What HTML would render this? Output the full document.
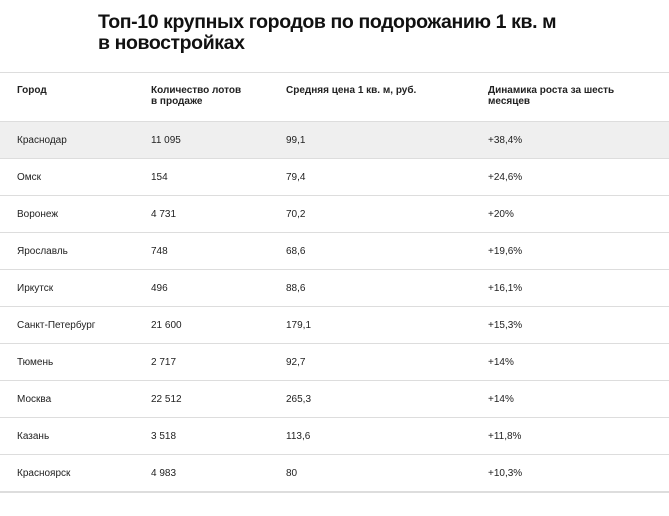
<!DOCTYPE html><html><head><meta charset="utf-8"><style>
body{margin:0;width:669px;height:516px;background:#fff;font-family:"Liberation Sans",sans-serif;color:#222;position:relative;overflow:hidden}
h1{position:absolute;left:98px;top:12px;margin:0;font-size:19.5px;line-height:21px;font-weight:bold;color:#111;letter-spacing:-0.4px}
.r{position:absolute;left:0;width:669px;border-top:1px solid #ddd;font-size:10px}
.r span{position:absolute}
</style></head><body>
<h1>Топ-10 крупных городов по подорожанию 1 кв. м<br>в новостройках</h1>
<div class="r" style="top:72px;height:49px;font-weight:bold;line-height:11px">
<span style="left:17px;top:12px">Город</span>
<span style="left:151px;top:12px">Количество лотов<br>в продаже</span>
<span style="left:286px;top:12px">Средняя цена 1 кв. м, руб.</span>
<span style="left:488px;top:12px">Динамика роста за шесть<br>месяцев</span>
</div>
<div class="r" style="top:121px;height:36px;background:#efefef"><span style="left:17px;top:13px">Краснодар</span><span style="left:151px;top:13px">11 095</span><span style="left:286px;top:13px">99,1</span><span style="left:488px;top:13px">+38,4%</span></div>
<div class="r" style="top:158px;height:36px"><span style="left:17px;top:13px">Омск</span><span style="left:151px;top:13px">154</span><span style="left:286px;top:13px">79,4</span><span style="left:488px;top:13px">+24,6%</span></div>
<div class="r" style="top:195px;height:36px"><span style="left:17px;top:13px">Воронеж</span><span style="left:151px;top:13px">4 731</span><span style="left:286px;top:13px">70,2</span><span style="left:488px;top:13px">+20%</span></div>
<div class="r" style="top:232px;height:36px"><span style="left:17px;top:13px">Ярославль</span><span style="left:151px;top:13px">748</span><span style="left:286px;top:13px">68,6</span><span style="left:488px;top:13px">+19,6%</span></div>
<div class="r" style="top:269px;height:36px"><span style="left:17px;top:13px">Иркутск</span><span style="left:151px;top:13px">496</span><span style="left:286px;top:13px">88,6</span><span style="left:488px;top:13px">+16,1%</span></div>
<div class="r" style="top:306px;height:36px"><span style="left:17px;top:13px">Санкт-Петербург</span><span style="left:151px;top:13px">21 600</span><span style="left:286px;top:13px">179,1</span><span style="left:488px;top:13px">+15,3%</span></div>
<div class="r" style="top:343px;height:36px"><span style="left:17px;top:13px">Тюмень</span><span style="left:151px;top:13px">2 717</span><span style="left:286px;top:13px">92,7</span><span style="left:488px;top:13px">+14%</span></div>
<div class="r" style="top:380px;height:36px"><span style="left:17px;top:13px">Москва</span><span style="left:151px;top:13px">22 512</span><span style="left:286px;top:13px">265,3</span><span style="left:488px;top:13px">+14%</span></div>
<div class="r" style="top:417px;height:36px"><span style="left:17px;top:13px">Казань</span><span style="left:151px;top:13px">3 518</span><span style="left:286px;top:13px">113,6</span><span style="left:488px;top:13px">+11,8%</span></div>
<div class="r" style="top:454px;height:36px;border-bottom:2px solid #ddd"><span style="left:17px;top:13px">Красноярск</span><span style="left:151px;top:13px">4 983</span><span style="left:286px;top:13px">80</span><span style="left:488px;top:13px">+10,3%</span></div>
</body></html>
